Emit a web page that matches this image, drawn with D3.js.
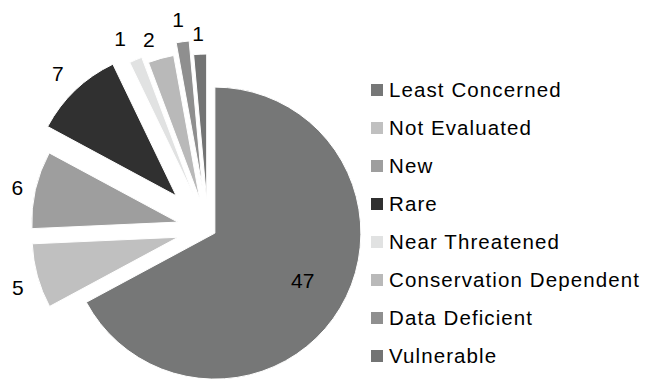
<!DOCTYPE html>
<html>
<head>
<meta charset="utf-8">
<script src="https://cdn.jsdelivr.net/npm/d3@7"></script>
<style>
  html, body { margin: 0; padding: 0; background: #fff; }
  svg { display: block; font-family: "Liberation Sans", Arial, sans-serif; }
</style>
</head>
<body>
<svg id="chart" width="656" height="379"></svg>
<script>
const categories = ["Least Concerned", "Not Evaluated", "New", "Rare", "Near Threatened",
                    "Conservation Dependent", "Data Deficient", "Vulnerable"];
const values = [47, 5, 6, 7, 1, 2, 1, 1];
const colors = ["#767777", "#c0c0c0", "#9e9e9e", "#303030", "#e1e2e2", "#b9b9b9", "#8f8f8f", "#737474"];
// style: explosion distance, label distance and label angle nudge (degrees)
const explode = [8, 31, 31, 46, 38, 31, 43, 29];
const labelDist = [100, 168, 164, 170, 172, 168, 169, 167];
const labelNudge = [-2.4, -2, -0.7, -0.4, -2, -2.2, -0.5, -0.4];

const W = 656, H = 379;
const cx = 208, cy = 229, R = 146;

const svg = d3.select("#chart");
const data = categories.map((c, i) => ({ cat: c, value: values[i], color: colors[i], ex: explode[i],
  ld: labelDist[i], ln: labelNudge[i] * Math.PI / 180 }));

const pie = d3.pie().value(d => d.value).sort(null).startAngle(0).endAngle(2 * Math.PI);
const arcs = pie(data);
const arc = d3.arc().innerRadius(0).outerRadius(R);

const g = svg.append("g").attr("transform", `translate(${cx},${cy})`);

const mid = a => (a.startAngle + a.endAngle) / 2;
const dir = a => [Math.sin(mid(a)), -Math.cos(mid(a))];

const slices = g.selectAll("g.slice").data(arcs).enter().append("g")
  .attr("class", "slice")
  .attr("transform", a => { const [ux, uy] = dir(a); return `translate(${ux * a.data.ex},${uy * a.data.ex})`; });

slices.append("path")
  .attr("d", arc)
  .attr("fill", a => a.data.color)
  .attr("stroke", "#fff")
  .attr("stroke-width", 1);

slices.append("text")
  .attr("x", a => Math.sin(mid(a) + a.data.ln) * a.data.ld)
  .attr("y", a => -Math.cos(mid(a) + a.data.ln) * a.data.ld)
  .attr("dy", "0.36em")
  .attr("text-anchor", "middle")
  .attr("font-size", "21px")
  .attr("fill", "#000")
  .text(a => a.data.value);

// Legend
const legend = svg.append("g").attr("transform", "translate(371,90)");
const rows = legend.selectAll("g").data(data).enter().append("g")
  .attr("transform", (d, i) => `translate(0,${i * 38})`);
rows.append("rect").attr("x", 0).attr("y", -6).attr("width", 12).attr("height", 12)
  .attr("fill", d => d.color);
rows.append("text").attr("x", 18).attr("y", 0).attr("dy", "0.36em")
  .attr("font-size", "20.5px").attr("letter-spacing", "1.1px").attr("fill", "#000")
  .text(d => d.cat);
</script>
</body>
</html>
